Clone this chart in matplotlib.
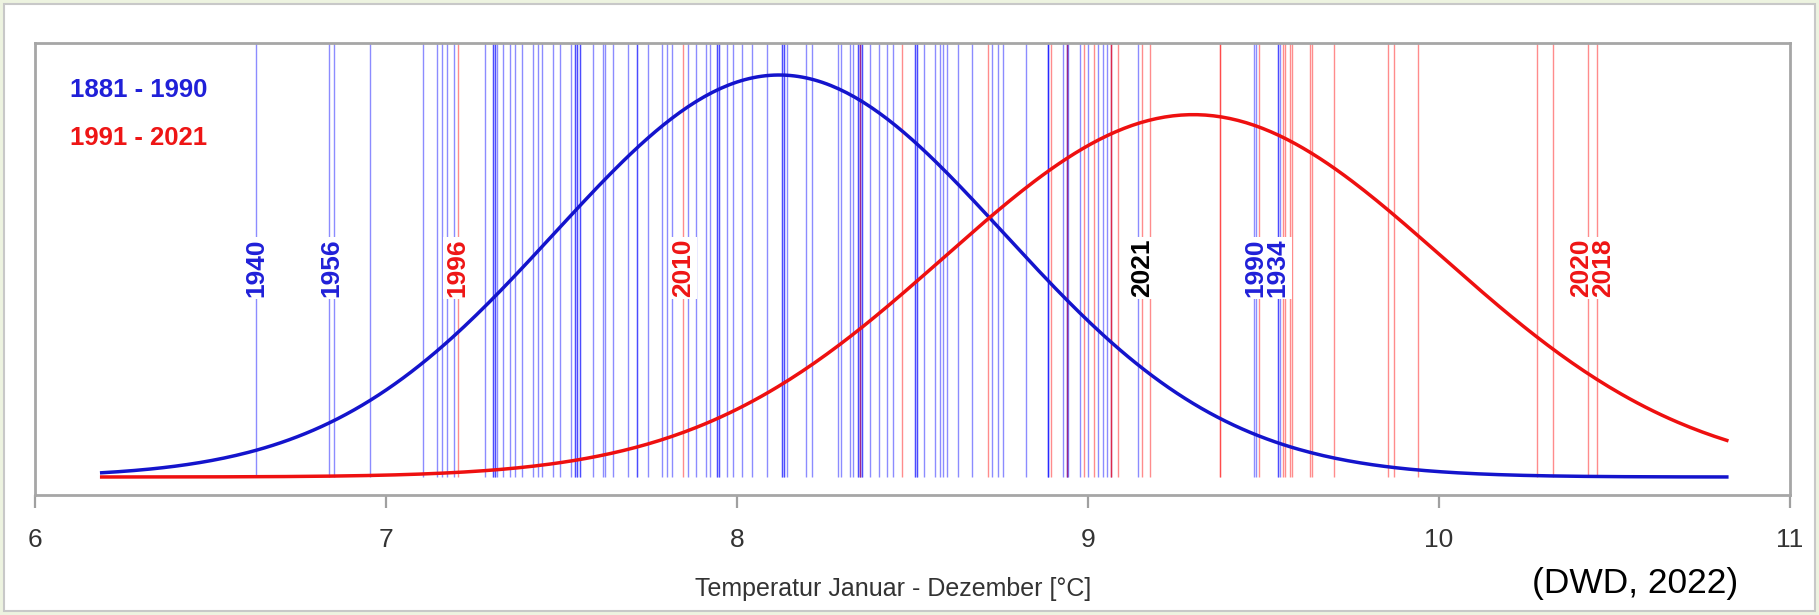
import numpy as np
import matplotlib.pyplot as plt
from matplotlib.patches import Rectangle

# annual mean temperatures (°C) (repeats = overlapping years)
temps_1881_1990 = [6.63, 6.838, 6.853, 6.954,
                   7.105, 7.146, 7.159, 7.173, 7.194,
                   7.282, 7.306, 7.306, 7.311, 7.311, 7.315, 7.334, 7.353, 7.368, 7.387,
                   7.42, 7.434, 7.444, 7.475, 7.496, 7.526, 7.538, 7.538, 7.543,
                   7.543, 7.553, 7.553,
                   7.59, 7.619, 7.624, 7.648, 7.69,
                   7.714, 7.714, 7.747, 7.785, 7.801, 7.814, 7.861, 7.883, 7.912, 7.923,
                   7.944, 7.944, 7.95, 7.95, 7.971, 7.99,
                   8.013, 8.042, 8.086, 8.127, 8.127, 8.134, 8.134, 8.142, 8.196,
                   8.213, 8.289, 8.295, 8.322, 8.331,
                   8.345, 8.345, 8.35, 8.35, 8.355, 8.355,
                   8.379, 8.405, 8.426, 8.445, 8.507, 8.507, 8.514, 8.514, 8.533,
                   8.564, 8.578, 8.588, 8.597, 8.63, 8.669, 8.726, 8.744, 8.759, 8.823,
                   8.887, 8.887, 8.887, 8.928, 8.939, 8.939, 8.944, 8.977, 9.0,
                   9.029, 9.044, 9.053, 9.065, 9.143,
                   9.473, 9.479, 9.542, 9.542, 9.547]
temps_1991_2021 = [7.204, 7.847, 8.35, 8.469, 8.716, 8.894, 8.939, 8.989, 9.018,
                   9.065, 9.065, 9.086, 9.155, 9.177, 9.376, 9.376, 9.488, 9.555,
                   9.561, 9.575, 9.58, 9.632, 9.637, 9.702, 9.856, 9.872, 9.941,
                   10.28, 10.326, 10.425, 10.449]

# normal curves fitted to both periods
curve_mean = {"1881 - 1990": 8.12, "1991 - 2021": 9.30}
curve_sd = {"1881 - 1990": 0.64, "1991 - 2021": 0.71}
curve_from, curve_to = 6.19, 10.82

# labelled years
label_years = ["1940", "1956", "1996", "2010", "2021", "1990", "1934", "2020", "2018"]
label_temps = [6.63, 6.845, 7.204, 7.847, 9.155, 9.479, 9.547, 10.425, 10.449]
label_kind = ["old", "old", "new", "new", "last", "old", "old", "new", "new"]
label_shift = [0, 0, 0, 0, 0, -0.003, -0.007, -0.019, 0.019]

BLUE = "#1414cc"
RED = "#ee1010"
txt_col = {"old": "#2020d8", "new": "#ee1515", "last": "black"}
ARIAL = "Liberation Sans"

fig = plt.figure(figsize=(18.19, 6.15), dpi=100)
fig.patch.set_facecolor("#edf3e0")
fig.add_artist(Rectangle((0.002, 0.007), 0.996, 0.986, transform=fig.transFigure,
                         facecolor="white", edgecolor="#c8c8c8", lw=1.5, zorder=-5))

ax = fig.add_axes([0.01924, 0.1951, 0.96482, 0.7350])
ax.patch.set_alpha(0)
ymin, ymax = -0.0279, 0.673
ax.set_xlim(6, 11)
ax.set_ylim(ymin, ymax)

ax.vlines(temps_1881_1990, 0, ymax, color=(0, 0, 1), alpha=0.45, lw=1.0, zorder=2)
ax.vlines(temps_1991_2021, 0, ymax, color=(1, 0, 0), alpha=0.45, lw=1.0, zorder=2)

for yr, t, k, dx in zip(label_years, label_temps, label_kind, label_shift):
    ax.text(t + dx, 0.324, yr, rotation=90, ha="center", va="center",
            color=txt_col[k], fontsize=19, fontweight="bold", family=ARIAL,
            bbox=dict(facecolor="white", edgecolor="none", pad=1.5), zorder=4)

xs = np.linspace(curve_from, curve_to, 400)
for key, col in zip(curve_mean, [BLUE, RED]):
    m, s = curve_mean[key], curve_sd[key]
    ax.plot(xs, np.exp(-0.5 * ((xs - m) / s) ** 2) / (s * np.sqrt(2 * np.pi)),
            color=col, lw=2.5, zorder=5)

ax.text(0.02, 0.896, "1881 - 1990", transform=ax.transAxes, color="#2020d8",
        fontsize=18.5, fontweight="bold", family=ARIAL, va="center")
ax.text(0.02, 0.79, "1991 - 2021", transform=ax.transAxes, color="#ee1515",
        fontsize=18.5, fontweight="bold", family=ARIAL, va="center")

ax.set_xticks(range(6, 12))
ax.set_yticks([])
ax.tick_params(axis="x", length=9.5, width=1.6, color="#a0a0a0", labelsize=19,
               pad=14, labelcolor="#333333")
for lbl in ax.get_xticklabels():
    lbl.set_family(ARIAL)
for s in ax.spines.values():
    s.set_edgecolor("#a6a6a6")
    s.set_linewidth(2)

fig.text(893 / 1819, 1 - 589 / 615, "Temperatur Januar - Dezember [°C]", ha="center",
         va="center", fontsize=18, family=ARIAL, color="#333333")
fig.text(1635 / 1819, 1 - 583 / 615, "(DWD, 2022)", ha="center", va="center",
         fontsize=25.5, family=ARIAL, color="black")

fig.savefig("out.png", dpi=100, facecolor=fig.get_facecolor())
